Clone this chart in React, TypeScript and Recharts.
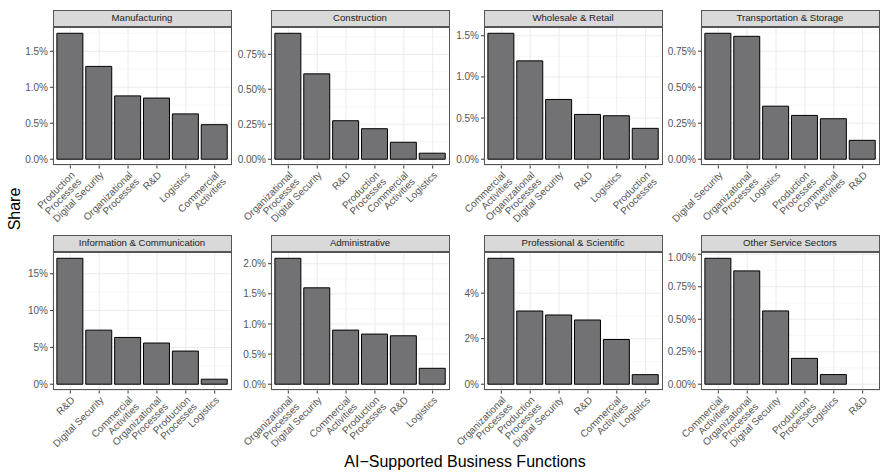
import { BarChart, Bar, XAxis, YAxis, CartesianGrid } from "recharts";

// share of firms (%) using AI per business function, sorted per sector
const manufacturingFunctions = ["Production Processes", "Digital Security", "Organizational Processes", "R&D", "Logistics", "Commercial Activities"];
const manufacturingShare = [1.75, 1.29, 0.88, 0.85, 0.63, 0.48];
const manufacturingTicks = [0, 0.5, 1, 1.5];

const constructionFunctions = ["Organizational Processes", "Digital Security", "R&D", "Production Processes", "Commercial Activities", "Logistics"];
const constructionShare = [0.9, 0.61, 0.275, 0.218, 0.121, 0.043];
const constructionTicks = [0, 0.25, 0.5, 0.75];

const wholesaleFunctions = ["Commercial Activities", "Organizational Processes", "Digital Security", "R&D", "Logistics", "Production Processes"];
const wholesaleShare = [1.53, 1.195, 0.726, 0.544, 0.528, 0.375];
const wholesaleTicks = [0, 0.5, 1, 1.5];

const transportFunctions = ["Digital Security", "Organizational Processes", "Logistics", "Production Processes", "Commercial Activities", "R&D"];
const transportShare = [0.874, 0.853, 0.368, 0.304, 0.281, 0.131];
const transportTicks = [0, 0.25, 0.5, 0.75];

const infoFunctions = ["R&D", "Digital Security", "Commercial Activities", "Organizational Processes", "Production Processes", "Logistics"];
const infoShare = [17.1, 7.34, 6.35, 5.59, 4.5, 0.68];
const infoTicks = [0, 5, 10, 15];

const adminFunctions = ["Organizational Processes", "Digital Security", "Commercial Activities", "Production Processes", "R&D", "Logistics"];
const adminShare = [2.09, 1.6, 0.898, 0.832, 0.804, 0.264];
const adminTicks = [0, 0.5, 1, 1.5, 2];

const professionalFunctions = ["Organizational Processes", "Production Processes", "Digital Security", "R&D", "Commercial Activities", "Logistics"];
const professionalShare = [5.53, 3.215, 3.04, 2.82, 1.964, 0.42];
const professionalTicks = [0, 2, 4];

const otherFunctions = ["Commercial Activities", "Organizational Processes", "Digital Security", "Production Processes", "Logistics", "R&D"];
const otherShare = [0.969, 0.872, 0.564, 0.199, 0.074, 0];
const otherTicks = [0, 0.25, 0.5, 0.75, 1];

const facets = [
  { title: "Manufacturing", functions: manufacturingFunctions, share: manufacturingShare, ticks: manufacturingTicks, digits: 1 },
  { title: "Construction", functions: constructionFunctions, share: constructionShare, ticks: constructionTicks, digits: 2 },
  { title: "Wholesale & Retail", functions: wholesaleFunctions, share: wholesaleShare, ticks: wholesaleTicks, digits: 1 },
  { title: "Transportation & Storage", functions: transportFunctions, share: transportShare, ticks: transportTicks, digits: 2 },
  { title: "Information & Communication", functions: infoFunctions, share: infoShare, ticks: infoTicks, digits: 0 },
  { title: "Administrative", functions: adminFunctions, share: adminShare, ticks: adminTicks, digits: 1 },
  { title: "Professional & Scientific", functions: professionalFunctions, share: professionalShare, ticks: professionalTicks, digits: 0 },
  { title: "Other Service Sectors", functions: otherFunctions, share: otherShare, ticks: otherTicks, digits: 2 },
];

const FONT = "'Liberation Sans', Arial, sans-serif";
const COL_LEFT = [52.5, 270.5, 483.5, 700.5];
const ROW_TOP = [10, 235];
const PANEL_W = 179;
const STRIP_H = 16.5;
const PLOT_H = 138.5;
const AXIS_W = 50;
const XAXIS_H = 64;

function FunctionTick({ x, y, payload }: any) {
  const name = String(payload.value);
  const lines = name === "Digital Security" ? [name] : name.split(" ");
  return (
    <g transform={`translate(${x},${y})`}>
      <text
        transform="rotate(-45)"
        textAnchor="end"
        fontSize={10}
        fill="#555"
        fontFamily={FONT}
      >
        {lines.map((l, i) => (
          <tspan key={i} x={0} dy={i === 0 ? "0.72em" : "0.95em"}>
            {l}
          </tspan>
        ))}
      </text>
    </g>
  );
}

function Facet({ facet, col, row }: any) {
  const data = facet.functions.map((fn: string, i: number) => ({ fn, share: facet.share[i] }));
  const max = Math.max(...facet.share);
  const lo = -0.05 * max;
  const hi = 1.05 * max;
  // ggplot-style minor grid: halfway between major breaks
  const step = facet.ticks[1] - facet.ticks[0];
  const minors: number[] = [];
  for (let v = -step / 2; v <= hi; v += step) {
    if (v >= lo) minors.push(v);
  }
  const pad = PANEL_W / 62;
  const left = COL_LEFT[col] - AXIS_W;
  const top = ROW_TOP[row];

  return (
    <div style={{ position: "absolute", left, top, width: AXIS_W + PANEL_W, height: STRIP_H + PLOT_H + XAXIS_H }}>
      <div
        style={{
          position: "absolute",
          left: AXIS_W,
          top: 0,
          width: PANEL_W,
          height: STRIP_H,
          boxSizing: "border-box",
          background: "#D9D9D9",
          border: "1px solid #555",
          fontSize: 9.6,
          color: "#1A1A1A",
          textAlign: "center",
          lineHeight: `${STRIP_H - 2}px`,
          fontFamily: FONT,
          whiteSpace: "nowrap",
        }}
      >
        {facet.title}
      </div>
      <div style={{ position: "absolute", left: 0, top: STRIP_H }}>
        <BarChart
          width={AXIS_W + PANEL_W}
          height={PLOT_H + XAXIS_H}
          data={data}
          margin={{ top: 0, right: 0, bottom: 0, left: 0 }}
          style={{ overflow: "visible" }}
        >
          <CartesianGrid stroke="#EBEBEB" strokeWidth={1} />
          <CartesianGrid stroke="#F2F2F2" strokeWidth={0.6} vertical={false} horizontalValues={minors} />
          <XAxis
            dataKey="fn"
            type="category"
            interval={0}
            padding={{ left: pad, right: pad }}
            axisLine={false}
            tickLine={{ stroke: "#333" }}
            tickSize={3}
            tickMargin={2}
            height={XAXIS_H}
            tick={<FunctionTick />}
          />
          <YAxis
            type="number"
            domain={[lo, hi]}
            ticks={facet.ticks}
            allowDataOverflow
            axisLine={false}
            tickLine={{ stroke: "#333" }}
            tickSize={3}
            tickMargin={2}
            width={AXIS_W}
            tick={{ fontSize: 10, fill: "#555", fontFamily: FONT }}
            tickFormatter={(v: number) => `${v.toFixed(facet.digits)}%`}
          />
          <Bar
            dataKey="share"
            fill="#727275"
            stroke="#000"
            strokeWidth={1}
            barSize={(0.9 * PANEL_W) / 6.2}
            isAnimationActive={false}
          />
        </BarChart>
      </div>
      <div
        style={{
          position: "absolute",
          left: AXIS_W,
          top: STRIP_H,
          width: PANEL_W,
          height: PLOT_H,
          boxSizing: "border-box",
          border: "1px solid #555",
          pointerEvents: "none",
        }}
      />
    </div>
  );
}

export default function App() {
  return (
    <div style={{ position: "absolute", left: 0, top: 0, width: 881, height: 472, background: "#fff", fontFamily: FONT }}>
      {facets.map((f, i) => (
        <Facet key={f.title} facet={f} col={i % 4} row={Math.floor(i / 4)} />
      ))}
      <div
        style={{
          position: "absolute",
          left: 15,
          top: 209,
          transform: "translate(-50%, -50%) rotate(-90deg)",
          fontSize: 16,
          color: "#000",
          whiteSpace: "nowrap",
        }}
      >
        Share
      </div>
      <div
        style={{
          position: "absolute",
          left: 465,
          top: 462,
          transform: "translate(-50%, -50%)",
          fontSize: 16,
          color: "#000",
          whiteSpace: "nowrap",
        }}
      >
        AI−Supported Business Functions
      </div>
    </div>
  );
}
